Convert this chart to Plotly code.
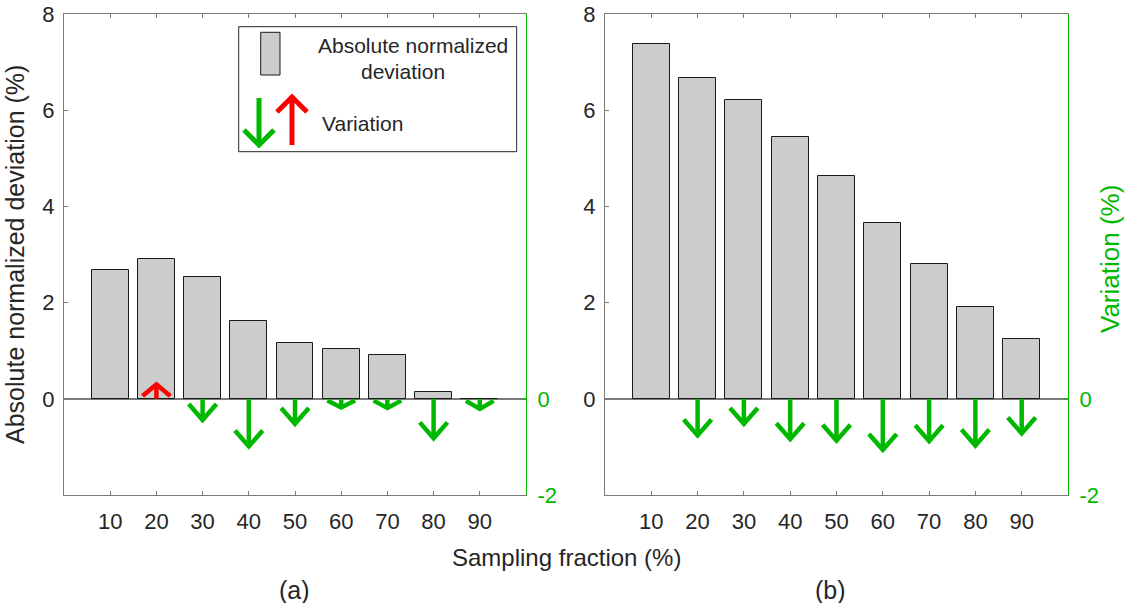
import plotly.graph_objects as go

# ---------------- data ----------------
fractions = [10, 20, 30, 40, 50, 60, 70, 80, 90]
dev_a = [2.68, 2.90, 2.54, 1.61, 1.16, 1.03, 0.91, 0.14, 0.0]
var_a = [0.0, 0.30, -0.44, -0.99, -0.52, -0.18, -0.19, -0.82, -0.21]
dev_b = [7.38, 6.66, 6.21, 5.44, 4.64, 3.65, 2.81, 1.91, 1.25]
var_b = [0.0, -0.76, -0.52, -0.84, -0.87, -1.06, -0.88, -0.97, -0.72]
left_ticks = [0, 2, 4, 6, 8]
right_ticks = [-2, 0]
right_tick_text = ["-2", "0"]

# ---------------- style ----------------
W, H = 1124, 603
FONT = "Liberation Sans, Arial, sans-serif"
TXT = "#262626"
AX = "#7a7a7a"
GREEN = "#00b800"
RED = "#ff0000"
BARFILL = "#cccccc"
HEAD_HW = 3.0      # arrow head half width (x units)
HEAD_LEN = 0.33    # arrow head length (y units)


def px(x):
    return x / W


def py(y):
    return 1 - y / H


def arrows(xs, vs, positive):
    X, Y = [], []
    for x, v in zip(xs, vs):
        if v == 0 or (v > 0) != positive:
            continue
        s = 1 if v > 0 else -1
        h = min(HEAD_LEN, 0.8 * abs(v))
        X += [x, x, None, x - HEAD_HW, x, x + HEAD_HW, None]
        Y += [0, v, None, v - s * h, v, v - s * h, None]
    return X, Y


fig = go.Figure()

panels = [("x", "y", "y2", dev_a, var_a), ("x2", "y3", "y4", dev_b, var_b)]
for xa, ya, ya2, dev, var in panels:
    fig.add_trace(go.Bar(x=fractions, y=dev, width=8, xaxis=xa, yaxis=ya,
                         marker=dict(color=BARFILL, line=dict(color="#1a1a1a", width=1)),
                         showlegend=False))
    gx, gy = arrows(fractions, var, False)
    if gx:
        fig.add_trace(go.Scatter(x=gx, y=gy, mode="lines", xaxis=xa, yaxis=ya2,
                                 line=dict(color=GREEN, width=4.5), showlegend=False))
    rx, ry = arrows(fractions, var, True)
    if rx:
        fig.add_trace(go.Scatter(x=rx, y=ry, mode="lines", xaxis=xa, yaxis=ya2,
                                 line=dict(color=RED, width=4.5), showlegend=False))

xdom_a = [px(64), px(526)]
xdom_b = [px(605), px(1068)]
ydom = [py(495), py(14)]
tickfont = dict(family=FONT, size=22, color=TXT)

xcommon = dict(range=[0, 100], tickvals=fractions, ticks="inside", ticklen=4,
               tickcolor=AX, showline=True, linecolor=AX, linewidth=1,
               mirror="ticks", showgrid=False, zeroline=False, tickfont=tickfont,
               ticklabelstandoff=7, automargin=False)
ycommon = dict(range=[-2, 8], tickvals=left_ticks, ticks="inside", ticklen=4,
               tickcolor=AX, showline=True, linecolor=AX, linewidth=1,
               showgrid=False, zeroline=True, zerolinecolor=AX, zerolinewidth=1.5,
               tickfont=tickfont, ticklabelstandoff=4, automargin=False)
y2common = dict(range=[-2, 8], tickvals=right_ticks, ticktext=right_tick_text,
                ticks="inside", ticklen=4,
                tickcolor=GREEN, showline=True, linecolor=GREEN, linewidth=1,
                side="right", showgrid=False, zeroline=False,
                tickfont=dict(family=FONT, size=22, color=GREEN), ticklabelstandoff=6,
                automargin=False)

fig.update_layout(
    width=W, height=H, margin=dict(l=0, r=0, t=0, b=0, pad=0, autoexpand=False),
    paper_bgcolor="white", plot_bgcolor="white",
    bargap=0, showlegend=False,
    xaxis=dict(domain=xdom_a, anchor="y", **xcommon),
    yaxis=dict(domain=ydom, anchor="x", **ycommon),
    yaxis2=dict(overlaying="y", anchor="x", **y2common),
    xaxis2=dict(domain=xdom_b, anchor="y3", **xcommon),
    yaxis3=dict(domain=ydom, anchor="x2", **ycommon),
    yaxis4=dict(overlaying="y3", anchor="x2", **y2common),
)

ann = []
lab = dict(family=FONT, size=25, color=TXT)
ann.append(dict(x=px(15), y=py(255), text="Absolute normalized deviation (%)", textangle=-90,
                font=lab, showarrow=False, xref="paper", yref="paper",
                xanchor="center", yanchor="middle"))
ann.append(dict(x=px(1110), y=py(259), text="Variation (%)", textangle=-90,
                font=dict(family=FONT, size=26, color=GREEN), showarrow=False,
                xref="paper", yref="paper", xanchor="center", yanchor="middle"))
ann.append(dict(x=px(566), y=py(557), text="Sampling fraction (%)",
                font=dict(family=FONT, size=24, color=TXT),
                showarrow=False, xref="paper", yref="paper", xanchor="center", yanchor="middle"))
ann.append(dict(x=px(294), y=py(590), text="(a)", font=lab,
                showarrow=False, xref="paper", yref="paper", xanchor="center", yanchor="middle"))
ann.append(dict(x=px(830), y=py(590), text="(b)", font=lab,
                showarrow=False, xref="paper", yref="paper", xanchor="center", yanchor="middle"))
legfont = dict(family=FONT, size=21, color=TXT)
ann.append(dict(x=px(413), y=py(46), text="Absolute normalized", font=legfont,
                showarrow=False, xref="paper", yref="paper", xanchor="center", yanchor="middle"))
ann.append(dict(x=px(403), y=py(71), text="deviation", font=legfont,
                showarrow=False, xref="paper", yref="paper", xanchor="center", yanchor="middle"))
ann.append(dict(x=px(362), y=py(124), text="Variation", font=legfont,
                showarrow=False, xref="paper", yref="paper", xanchor="center", yanchor="middle"))

shapes = []
shapes.append(dict(type="rect", xref="paper", yref="paper", x0=px(238.7), x1=px(516.7),
                   y0=py(151.7), y1=py(26.7), line=dict(color=TXT, width=1), fillcolor="white"))
shapes.append(dict(type="rect", xref="paper", yref="paper", x0=px(260.7), x1=px(280),
                   y0=py(75), y1=py(32.3), line=dict(color="#1a1a1a", width=1), fillcolor=BARFILL))


def leg_arrow(x, y_tail, y_tip, color):
    d = 1 if y_tip > y_tail else -1   # pixel direction
    out = [dict(type="line", xref="paper", yref="paper", x0=px(x), x1=px(x),
                y0=py(y_tail), y1=py(y_tip), line=dict(color=color, width=5))]
    path = "M {},{} L {},{} L {},{}".format(px(x - 15), py(y_tip - d * 15), px(x), py(y_tip),
                                         px(x + 15), py(y_tip - d * 15))
    out.append(dict(type="path", xref="paper", yref="paper", path=path,
                    line=dict(color=color, width=5)))
    return out


shapes += leg_arrow(259, 98, 145, GREEN)
shapes += leg_arrow(292, 145, 97, RED)

fig.update_layout(annotations=ann, shapes=shapes)
fig.write_html("out.html")
